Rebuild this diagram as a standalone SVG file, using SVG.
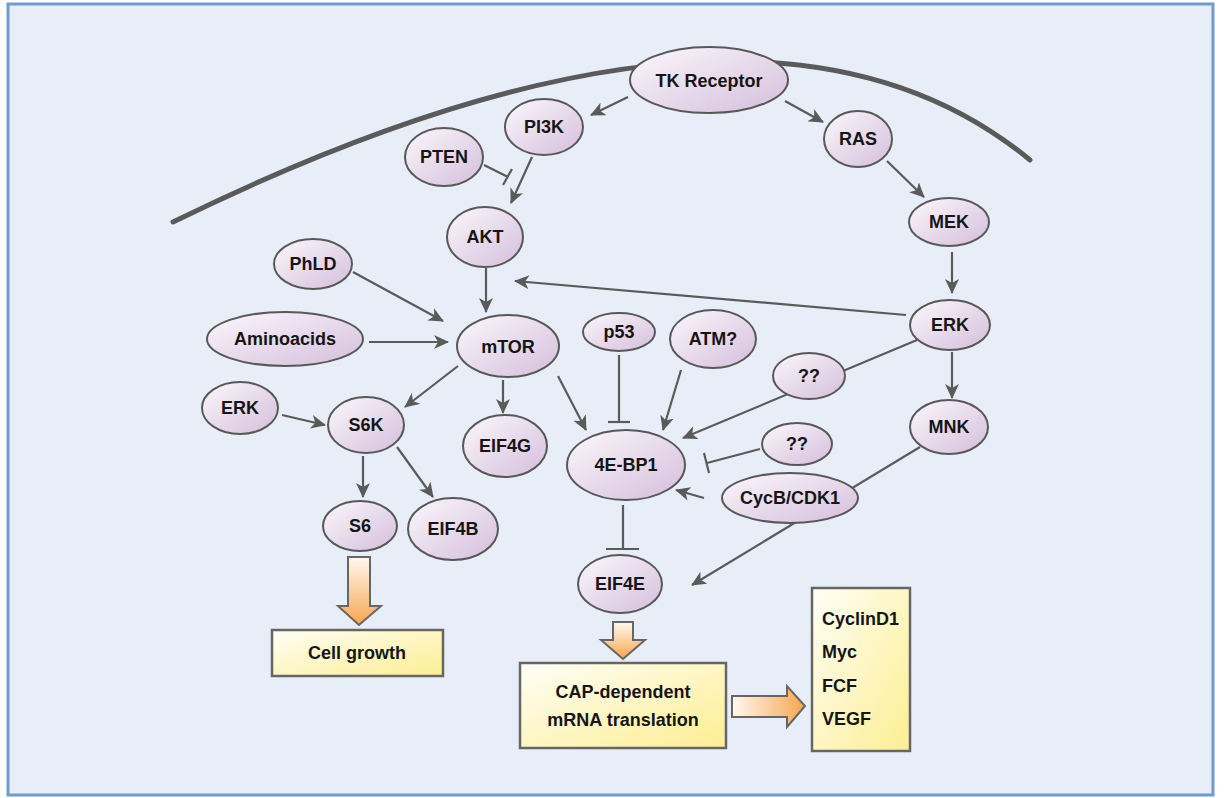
<svg xmlns="http://www.w3.org/2000/svg" width="1224" height="798" viewBox="0 0 1224 798">
<defs>
<linearGradient id="gNode" x1="0" y1="0" x2="1" y2="1">
<stop offset="0" stop-color="#fbf8fc"/>
<stop offset="1" stop-color="#d4bedb"/>
</linearGradient>
<linearGradient id="gBox" x1="0" y1="0" x2="1" y2="1">
<stop offset="0" stop-color="#fffef6"/>
<stop offset="1" stop-color="#fcee92"/>
</linearGradient>
<linearGradient id="gArrowV" x1="0" y1="0" x2="0" y2="1">
<stop offset="0" stop-color="#fff8f0"/>
<stop offset="1" stop-color="#f7a64e"/>
</linearGradient>
<linearGradient id="gArrowH" x1="0" y1="0" x2="1" y2="0">
<stop offset="0" stop-color="#fff8f0"/>
<stop offset="1" stop-color="#f7a64e"/>
</linearGradient>
<marker id="arr" viewBox="0 0 15 14" refX="14" refY="7" markerWidth="15" markerHeight="14" markerUnits="userSpaceOnUse" orient="auto">
<path d="M0,0 L15,7 L0,14 L4,7 z" fill="#5a5a5a"/>
</marker>
</defs>
<style>
.node ellipse{fill:url(#gNode);stroke:#585858;stroke-width:2}
.box{fill:url(#gBox);stroke:#666;stroke-width:2.5}
text{font-family:"Liberation Sans",Arial,sans-serif;font-weight:bold;font-size:18px;fill:#151515;text-anchor:middle}
.lt{text-anchor:start}
.c line,.c path{stroke:#5a5a5a;stroke-width:2.2;fill:none}
.a{marker-end:url(#arr)}
.big{stroke:#666;stroke-width:2}
</style>
<rect x="8" y="4" width="1205" height="791" fill="#e8eef7" stroke="#6f9ccc" stroke-width="3"/>
<path d="M173,222 Q758,-65 1030,160" fill="none" stroke="#5a5a5a" stroke-width="5" stroke-linecap="round"/>
<g id="connectors" class="c">
<line class="a" x1="628" y1="97" x2="591" y2="115"/>
<line class="a" x1="785" y1="101" x2="823" y2="122"/>
<line class="a" x1="532" y1="157" x2="511" y2="203"/>
<line x1="484" y1="165" x2="508" y2="177"/>
<line x1="503" y1="185" x2="512" y2="169"/>
<line class="a" x1="887" y1="161" x2="924" y2="197"/>
<line class="a" x1="952" y1="252" x2="952" y2="293"/>
<line class="a" x1="906" y1="315" x2="515" y2="281"/>
<line class="a" x1="486" y1="268" x2="486" y2="312"/>
<line class="a" x1="353" y1="272" x2="443" y2="321"/>
<line class="a" x1="369" y1="342" x2="448" y2="342"/>
<line class="a" x1="458" y1="366" x2="405" y2="407"/>
<line class="a" x1="503" y1="380" x2="503" y2="413"/>
<line class="a" x1="558" y1="376" x2="586" y2="430"/>
<line class="a" x1="282" y1="415" x2="325" y2="425"/>
<line class="a" x1="363" y1="456" x2="363" y2="497"/>
<line class="a" x1="397" y1="447" x2="433" y2="497"/>
<line x1="619" y1="355" x2="619" y2="422"/>
<line x1="608" y1="422" x2="630" y2="422"/>
<line class="a" x1="681" y1="370" x2="663" y2="430"/>
<line class="a" x1="917" y1="340" x2="683" y2="438"/>
<line x1="760" y1="449" x2="707" y2="463"/>
<line x1="704" y1="453" x2="709" y2="473"/>
<line class="a" x1="704" y1="498" x2="676" y2="490"/>
<line class="a" x1="952" y1="352" x2="952" y2="398"/>
<line class="a" x1="920" y1="447" x2="692" y2="585"/>
<line x1="623" y1="505" x2="623" y2="549"/>
<line x1="606" y1="549" x2="639" y2="549"/>
</g>
<g id="bigArrows">
<path class="big" d="M348,557 H370 V606 H381 L359,625 L338,606 H348 Z" fill="url(#gArrowV)"/>
<path class="big" d="M613,622 H633 V640 H645 L623,659 L601,640 H613 Z" fill="url(#gArrowV)"/>
<path class="big" d="M732,696 H787 V686 L805,706 L787,727 V717 H732 Z" fill="url(#gArrowH)"/>
</g>
<g id="n-tk" class="node"><ellipse cx="709" cy="80" rx="79" ry="33"/><text x="709" y="87">TK Receptor</text></g>
<g id="n-pi3k" class="node"><ellipse cx="544" cy="127" rx="39" ry="28"/><text x="544" y="133">PI3K</text></g>
<g id="n-pten" class="node"><ellipse cx="444" cy="157" rx="39" ry="29"/><text x="444" y="163">PTEN</text></g>
<g id="n-akt" class="node"><ellipse cx="485" cy="237" rx="38" ry="30"/><text x="485" y="243">AKT</text></g>
<g id="n-ras" class="node"><ellipse cx="858" cy="139" rx="34" ry="28"/><text x="858" y="145">RAS</text></g>
<g id="n-mek" class="node"><ellipse cx="949" cy="222" rx="40" ry="24"/><text x="949" y="228">MEK</text></g>
<g id="n-erk1" class="node"><ellipse cx="950" cy="325" rx="40" ry="25"/><text x="950" y="331">ERK</text></g>
<g id="n-mnk" class="node"><ellipse cx="949" cy="427" rx="39" ry="27"/><text x="949" y="433">MNK</text></g>
<g id="n-phld" class="node"><ellipse cx="313" cy="264" rx="39" ry="25"/><text x="313" y="270">PhLD</text></g>
<g id="n-amino" class="node"><ellipse cx="285" cy="339" rx="78" ry="27"/><text x="285" y="345">Aminoacids</text></g>
<g id="n-mtor" class="node"><ellipse cx="508" cy="346" rx="51" ry="31"/><text x="508" y="353">mTOR</text></g>
<g id="n-erk2" class="node"><ellipse cx="240" cy="408" rx="38" ry="26"/><text x="240" y="414">ERK</text></g>
<g id="n-s6k" class="node"><ellipse cx="366" cy="425" rx="38" ry="28"/><text x="366" y="431">S6K</text></g>
<g id="n-eif4g" class="node"><ellipse cx="505" cy="446" rx="42" ry="31"/><text x="505" y="452">EIF4G</text></g>
<g id="n-p53" class="node"><ellipse cx="619" cy="332" rx="36" ry="19"/><text x="619" y="338">p53</text></g>
<g id="n-atm" class="node"><ellipse cx="713" cy="339" rx="43" ry="29"/><text x="713" y="345">ATM?</text></g>
<g id="n-q1" class="node"><ellipse cx="809" cy="376" rx="36" ry="23"/><text x="809" y="382">??</text></g>
<g id="n-q2" class="node"><ellipse cx="797" cy="444" rx="35" ry="21"/><text x="797" y="450">??</text></g>
<g id="n-4ebp1" class="node"><ellipse cx="626" cy="465" rx="59" ry="35"/><text x="626" y="471">4E-BP1</text></g>
<g id="n-cycb" class="node"><ellipse cx="790" cy="498" rx="68" ry="25"/><text x="790" y="504">CycB/CDK1</text></g>
<g id="n-s6" class="node"><ellipse cx="360" cy="526" rx="37" ry="25"/><text x="360" y="532">S6</text></g>
<g id="n-eif4b" class="node"><ellipse cx="453" cy="529" rx="45" ry="31"/><text x="453" y="535">EIF4B</text></g>
<g id="n-eif4e" class="node"><ellipse cx="620" cy="584" rx="42" ry="29"/><text x="620" y="590">EIF4E</text></g>
<g id="n-cell"><rect class="box" x="272" y="630" width="171" height="46"/><text x="357" y="659">Cell growth</text></g>
<g id="n-cap"><rect class="box" x="520" y="663" width="206" height="85"/><text x="623" y="698">CAP-dependent</text><text x="623" y="726">mRNA translation</text></g>
<g id="n-prod"><rect class="box" x="812" y="588" width="98" height="163"/><text class="lt" x="822" y="625">CyclinD1</text><text class="lt" x="822" y="658">Myc</text><text class="lt" x="822" y="692">FCF</text><text class="lt" x="822" y="725">VEGF</text></g>
</svg>
